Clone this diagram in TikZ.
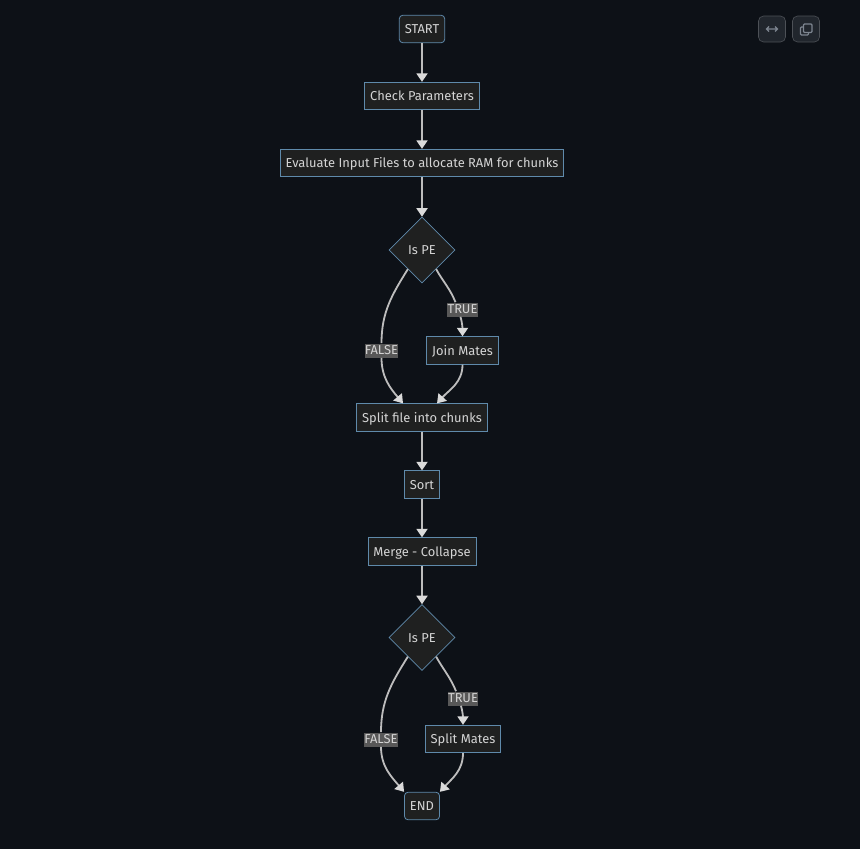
\documentclass[tikz,border=0pt]{standalone}
\usepackage{fontspec}
\setmainfont{Fira Sans}
\usetikzlibrary{arrows.meta,shapes.geometric}

\definecolor{pagebg}{HTML}{0D1117}
\definecolor{boxfill}{HTML}{1F2020}
\definecolor{boxline}{HTML}{5F8AAB}
\definecolor{flowline}{HTML}{BDBDBD}
\definecolor{flowtip}{HTML}{DADADA}
\definecolor{labeltext}{HTML}{D4D4D4}
\definecolor{labelbg}{HTML}{585858}
\definecolor{btnfill}{HTML}{21262D}
\definecolor{btnicon}{HTML}{7D8590}

\begin{document}
\begin{tikzpicture}[x=1pt,y=-1pt,>={Triangle[length=8.5pt,width=11pt,color=flowtip]},
                    semithick,node distance=67pt,
                    font=\fontsize{12.9}{15}\selectfont,text=labeltext]

  \tikzstyle{stepbox}=[rectangle,draw=boxline,fill=boxfill,line width=0.8pt,minimum height=27.5pt,inner xsep=5.5pt,inner ysep=0pt,text height=10.5pt,text depth=1.5pt]
  \tikzstyle{endbox}=[stepbox,rounded corners=3.5pt]
  \tikzstyle{testbox}=[diamond,draw=boxline,fill=boxfill,line width=0.6pt,minimum width=66pt,minimum height=66pt,inner sep=0pt,text height=10.5pt,text depth=1.5pt]
  \tikzstyle{branch}=[rectangle,fill=labelbg,inner sep=0pt,minimum height=14pt,inner xsep=0.2pt,text height=10.5pt,text depth=3pt]
  \tikzstyle{flow}=[->,draw=flowline,line width=1.8pt]
  \tikzstyle{flowpart}=[draw=flowline,line width=1.8pt]
  \tikzstyle{btn}=[rectangle,rounded corners=5pt,fill=btnfill,draw=btnfill!80!white,minimum width=27pt,minimum height=26pt]

  \fill[pagebg] (0,0) rectangle (860,849);
  \useasboundingbox (0,0) rectangle (860,849);

  \node[endbox] (start) at (422,29)                          {START};
  \node[stepbox] (check)  [below of=start]                   {Check Parameters};
  \node[stepbox] (eval)   [below of=check]                   {Evaluate Input Files to allocate RAM for chunks};
  \node[testbox] (pe1)    [below of=eval,node distance=87pt] {Is PE};
  \node[stepbox] (join)   [below of=pe1,node distance=100.5pt,xshift=40.5pt] {Join Mates};
  \node[stepbox] (split)  [below of=pe1,node distance=167.5pt] {Split file into chunks};
  \node[stepbox] (sort)   [below of=split]                   {Sort};
  \node[stepbox] (merge)  [below of=sort]                    {Merge - Collapse};
  \node[testbox] (pe2)    [below of=merge,node distance=86pt] {Is PE};
  \node[stepbox] (mates)  [below of=pe2,node distance=101.5pt,xshift=41pt] {Split Mates};
  \node[endbox] (stop)    [below of=pe2,node distance=168.5pt] {END};

  \path (start) edge [flow] (check)
        (check) edge [flow] (eval)
        (eval)  edge [flow] (pe1)
        (split) edge [flow] (sort)
        (sort)  edge [flow] (merge)
        (merge) edge [flow] (pe2);

  \node[branch] (true1)  at (462.5,309.5) {TRUE};
  \node[branch] (false1) at (381.5,350.5) {FALSE};
  \node[branch] (true2)  at (463,698.5)   {TRUE};
  \node[branch] (false2) at (381,739.5)   {FALSE};

  % first test
  \draw[flowpart] ([shift={(-2.5,2.5)}]pe1.south east) to [out=-61,in=112] ([shift={(-7,0)}]true1.north);
  \draw[flow] ([shift={(-2,0)}]true1.south) to [out=-75,in=90] (join.north);
  \draw[flowpart] ([shift={(2.5,2.5)}]pe1.south west) to [out=-122,in=90] (false1.north);
  \draw[flow] (false1.south) to [out=-90,in=130] ([xshift=-19pt]split.north);
  \draw[flow] (join.south) to [out=-90,in=48] ([xshift=15pt]split.north);

  % second test
  \draw[flowpart] ([shift={(-2.5,2.5)}]pe2.south east) to [out=-61,in=112] ([shift={(-7,0)}]true2.north);
  \draw[flow] ([shift={(-2,0)}]true2.south) to [out=-75,in=90] (mates.north);
  \draw[flowpart] ([shift={(2.5,2.5)}]pe2.south west) to [out=-122,in=90] (false2.north);
  \draw[flow] (false2.south) to [out=-90,in=130] (stop.north west);
  \draw[flow] (mates.south) to [out=-90,in=48] (stop.north east);

  % buttons
  \node[btn] (wide) at (772,29) {};
  \node[btn] (copy) at (806,29) {};
  \draw[btnicon,line width=1.1pt] (766.5,29) -- (777.5,29)
        (769,26.5) -- (766.5,29) -- (769,31.5)
        (775,26.5) -- (777.5,29) -- (775,31.5);
  \draw[btnicon,line width=1.1pt,rounded corners=1pt] (803.5,24) rectangle (812,32.5);
  \draw[btnicon,line width=1.1pt,rounded corners=1pt] (803.5,27) -- (800.5,27) -- (800.5,35) -- (808.5,35) -- (808.5,32.5);
\end{tikzpicture}
\end{document}
